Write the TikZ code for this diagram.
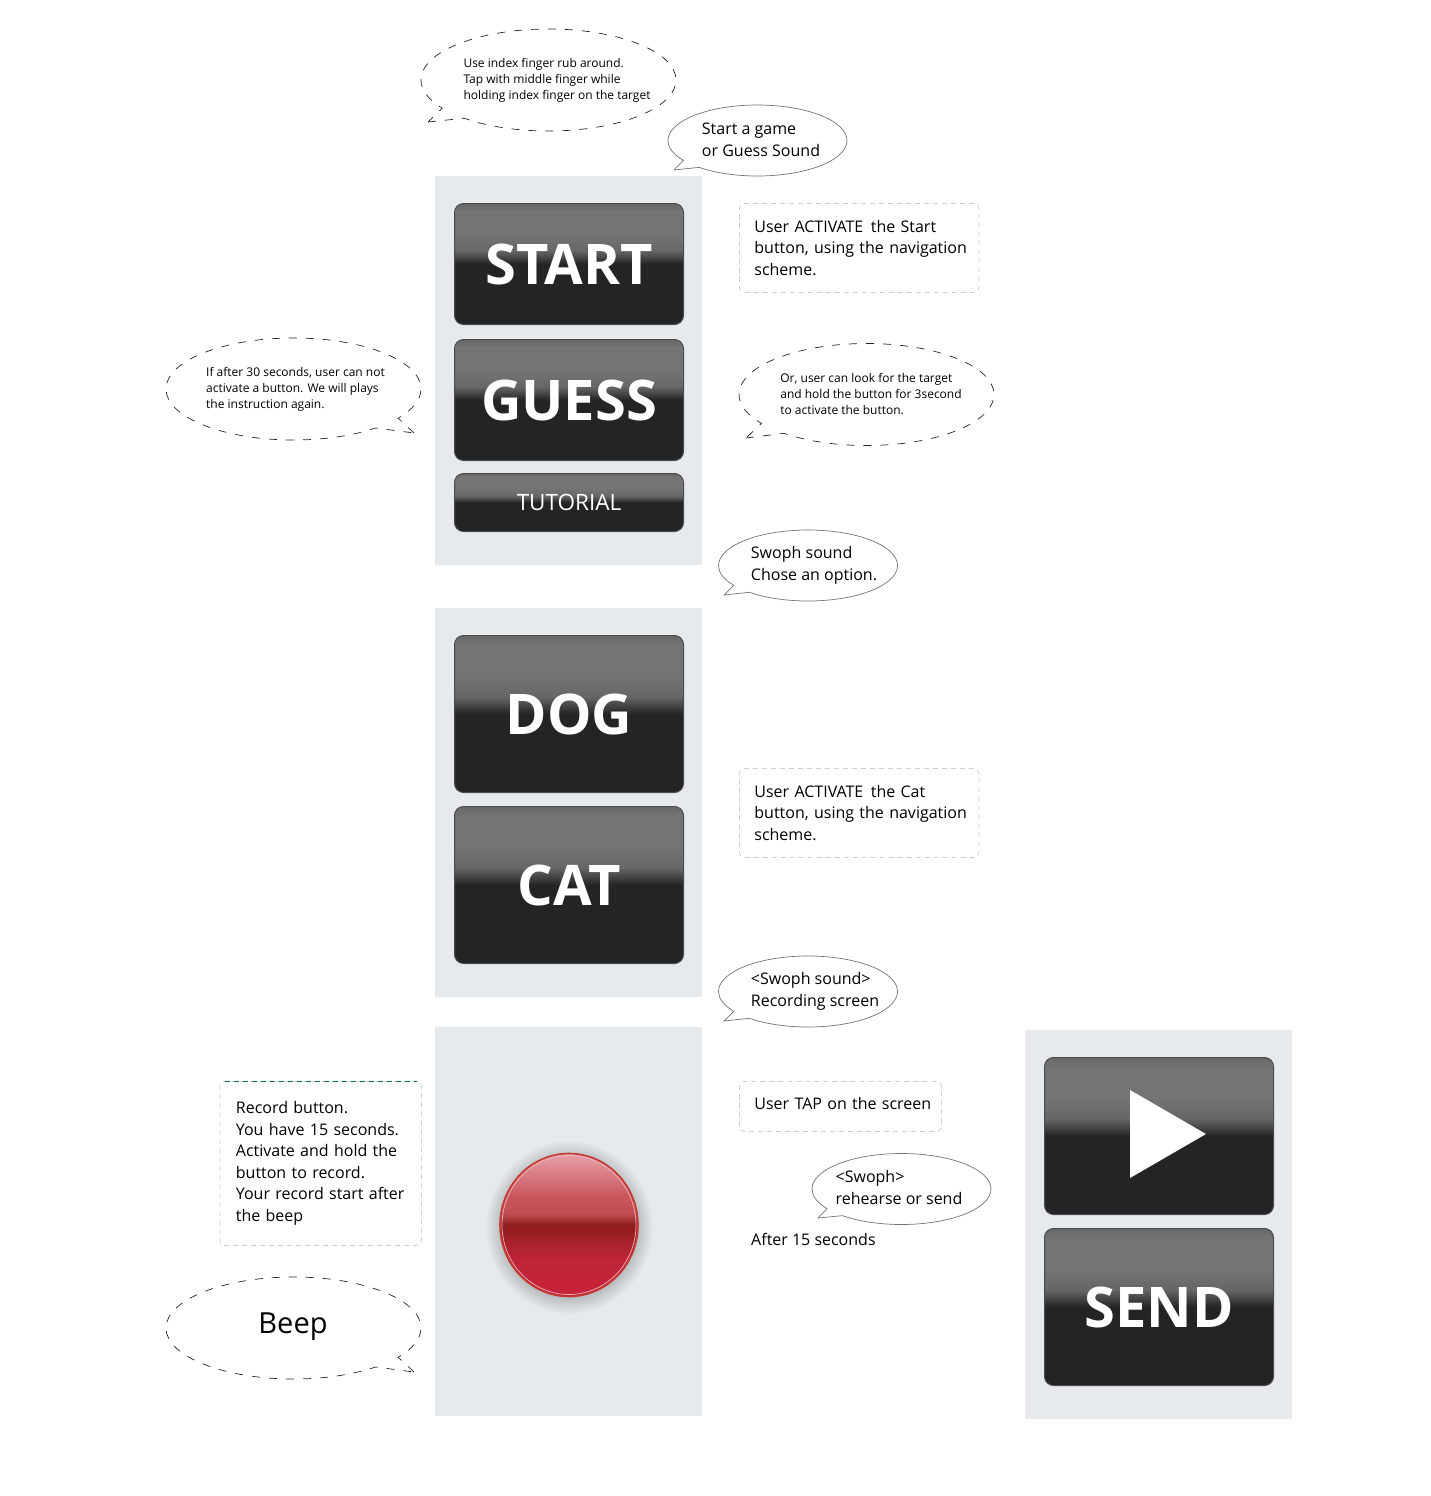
\documentclass[tikz,border=0pt]{standalone}
\usepackage{fontspec}
\setmainfont{Open Sans}
\usepackage{xcolor}
\usepackage{tikz}
\usetikzlibrary{shapes.callouts, shapes.geometric, calc}
\definecolor{panelbg}{HTML}{E7EAED}
\definecolor{btntop}{HTML}{747474}
\definecolor{btnrim}{HTML}{686868}
\definecolor{btnmid}{HTML}{666666}
\definecolor{btndark}{HTML}{232425}
\definecolor{btnedge}{HTML}{4A4B4C}
\definecolor{boxdash}{HTML}{C4D3CD}
\definecolor{boxgreen}{HTML}{0B6B53}
\definecolor{redline}{HTML}{C23A32}
\definecolor{halo}{HTML}{B8BBBE}
\definecolor{rA}{HTML}{C8233A}
\definecolor{rB}{HTML}{C0243A}
\definecolor{rC}{HTML}{AE2330}
\definecolor{rD}{HTML}{8F1D1E}
\definecolor{rE}{HTML}{C9565C}
\definecolor{rF}{HTML}{E8A0A8}
\pgfdeclareverticalshading{btnshade}{100bp}{
  color(0bp)=(btndark); color(50bp)=(btndark); color(55.5bp)=(btnmid);
  color(62bp)=(btntop); color(72bp)=(btntop); color(75bp)=(btnrim); color(100bp)=(btnrim)}
\pgfdeclareverticalshading{recshade}{100bp}{
  color(0bp)=(rA); color(25bp)=(rA); color(37.5bp)=(rB); color(42bp)=(rC); color(50bp)=(rD);
  color(54bp)=(rE!85!rD); color(60bp)=(rE); color(75bp)=(rF); color(100bp)=(rF)}
\pgfdeclareradialshading{haloshade}{\pgfpoint{0bp}{0bp}}{
  color(0bp)=(halo); color(20bp)=(halo); color(25bp)=(panelbg); color(50bp)=(panelbg)}

\begin{document}
\begin{tikzpicture}[
    x=1pt, y=-1pt,
    panel/.style={fill=panelbg, draw=none, minimum width=267pt, minimum height=389pt, inner sep=0pt},
    btn/.style={rectangle, rounded corners=9pt, draw=btnedge, line width=1pt, shading=btnshade,
      minimum width=229pt, inner sep=0pt, text=white, font=\fontsize{56}{58}\selectfont\bfseries},
    tallbtn/.style={btn, minimum height=157pt},
    midbtn/.style={btn, minimum height=121pt},
    bubble/.style={ellipse callout, draw=black!55, line width=0.7pt, fill=white, inner sep=0pt,
      minimum width=179pt, minimum height=71pt},
    dashbubble/.style={ellipse callout, draw=black!85, line width=0.7pt, dash pattern=on 8pt off 9pt,
      fill=white, inner sep=0pt, minimum width=255pt, minimum height=102pt},
    notebox/.style={rectangle, rounded corners=5pt, draw=boxdash, line width=0.8pt, dash pattern=on 5pt off 4pt,
      inner xsep=15pt, inner ysep=0pt, align=left, anchor=north west, font=\bodyfont},
    bodytext/.style={align=left, inner sep=0pt, font=\bodyfont},
    smalltext/.style={align=left, inner sep=0pt, font=\fontsize{12}{16}\selectfont},
    every node/.append style={text=black}
  ]
  \newcommand{\bodyfont}{\fontsize{16}{21.6}\selectfont}
  \useasboundingbox (0,0) rectangle (1430,1496);

  % panels
  \node[panel] (menupanel) at (568.5,370.5) {};
  \node[panel] (choicepanel) at (568.5,802.5) {};
  \node[panel] (recpanel) at (568.5,1221.5) {};
  \node[panel] (sendpanel) at (1158.5,1224.5) {};

  % buttons
  \node[midbtn] (start) at (569,264) {START};
  \node[midbtn] (guess) at (569,400) {GUESS};
  \node[btn, minimum height=58pt, font=\fontsize{22.5}{25}\selectfont] (tutorial) at (569,502.5) {TUTORIAL};
  \node[tallbtn] (dog) at (569,714) {DOG};
  \node[tallbtn] (cat) at (569,885) {CAT};
  \node[tallbtn] (play) at (1159,1136) {};
  \node[tallbtn] (send) at (1159,1307) {SEND};
  \fill[white] ($(play)+(-29,-46)$) -- ($(play)+(47,-2)$) -- ($(play)+(-29,42)$) -- cycle;

  % record button
  \shade[shading=haloshade] (569,1227) ellipse (84 and 87);
  \node[ellipse, draw=redline, line width=1.6pt, shading=recshade, minimum width=138pt, minimum height=143pt, inner sep=0pt] (record) at (569,1225) {};
  \draw[rF!80!white, line width=0.7pt] (record) ellipse (67 and 69.5);

  % dashed bubbles
  \node[dashbubble, callout absolute pointer={(428,122)}] (fingerbub) at (548.5,80) {};
  \node[smalltext] (fingertxt) at (557,80) {Use index finger rub around.\\Tap with middle finger while\\holding index finger on the target};
  \node[dashbubble, callout absolute pointer={(414,433)}] (timeoutbub) at (293.5,389) {};
  \node[smalltext] (timeouttxt) at (295.5,389) {If after 30 seconds, user can not\\activate a button. We will plays\\the instruction again.};
  \node[dashbubble, callout absolute pointer={(746,438)}] (holdbub) at (866.5,394.5) {};
  \node[smalltext] (holdtxt) at (871,393.5) {Or, user can look for the target\\and hold the button for 3second\\to activate the button.};
  \node[dashbubble, callout absolute pointer={(414,1372)}] (beep) at (293.5,1328) {};
  \node[inner sep=0pt, font=\fontsize{29}{32}\selectfont] (beeptxt) at (293,1327) {Beep};

  % solid bubbles
  \node[bubble, callout absolute pointer={(674,170)}] (gamebub) at (757.5,140.5) {};
  \node[bodytext] (gametxt) at (761,139.5) {Start a game\\or Guess Sound};
  \node[bubble, callout absolute pointer={(724,595)}] (optionbub) at (808,565.5) {};
  \node[bodytext] (optiontxt) at (814,565.5) {Swoph sound\\Chose an option.};
  \node[bubble, callout absolute pointer={(724,1021)}] (screenbub) at (808,991.5) {};
  \node[bodytext] (screentxt) at (815,991.5) {<Swoph sound>\\Recording screen};
  \node[bubble, callout absolute pointer={(818,1218)}] (sendbub) at (901.5,1189) {};
  \node[bodytext] (sendtxt) at (899,1187.5) {<Swoph>\\rehearse or send};

  % dashed note boxes
  \node[notebox, text width=209.5pt, minimum height=89pt] (startnote) at (739,203) {User ACTIVATE\hspace{7.5pt}the Start\\\mbox{button, using the navigation}\\scheme.};
  \node[notebox, text width=209.5pt, minimum height=89pt] (catnote) at (739,768) {User ACTIVATE\hspace{7.5pt}the Cat\\\mbox{button, using the navigation}\\scheme.};
  \node[notebox, text width=172pt, minimum height=50pt] (tapnote) at (739,1081) {\raisebox{3pt}[\height][\depth]{User TAP on the screen}};
  \node[notebox, text width=169.5pt, minimum height=164pt, inner xsep=16pt] (recnote) at (219.5,1081) {Record button.\\You have 15 seconds.\\Activate and hold the\\button to record.\\Your record start after\\the beep};
  \draw[boxgreen, line width=0.8pt, dash pattern=on 5pt off 4pt] ($(recnote.north west)+(5,0)$) -- ($(recnote.north east)+(-5,0)$);

  \node[bodytext, anchor=west] (aftertxt) at (751,1239) {After 15 seconds};
\end{tikzpicture}
\end{document}
